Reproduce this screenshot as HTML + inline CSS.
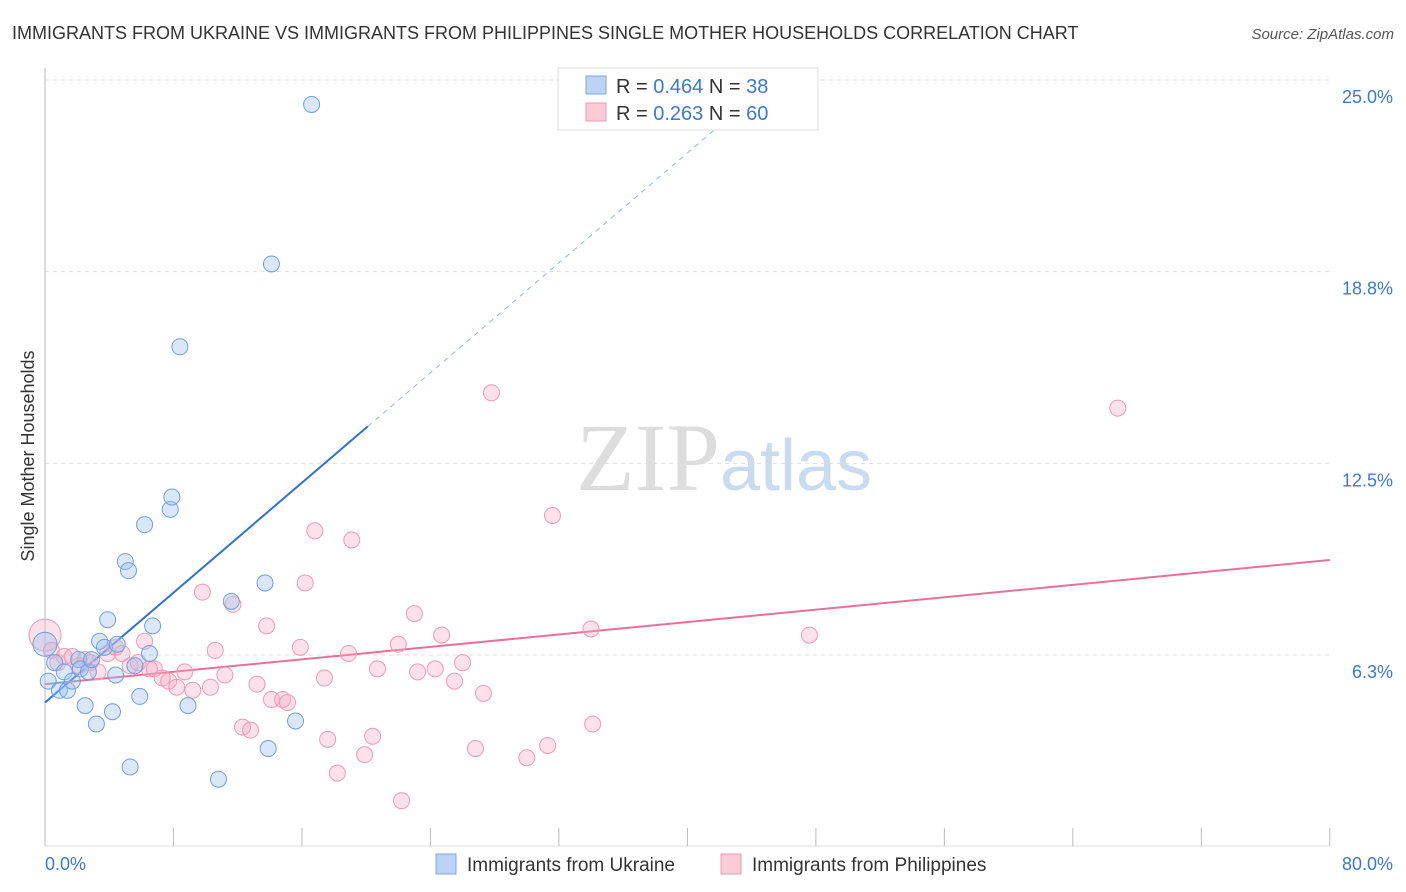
<!DOCTYPE html>
<html><head><meta charset="utf-8"><style>
body{margin:0;background:#fff;font-family:"Liberation Sans",sans-serif;}
svg{display:block}
</style></head><body>
<svg id="chart" width="1406" height="892">
<text x="12" y="39" font-size="18" fill="#333">IMMIGRANTS FROM UKRAINE VS IMMIGRANTS FROM PHILIPPINES SINGLE MOTHER HOUSEHOLDS CORRELATION CHART</text>
<text x="1394" y="39" font-size="15" fill="#555" font-style="italic" text-anchor="end">Source: ZipAtlas.com</text>
<text x="720" y="490" font-size="96" fill="#ddd" text-anchor="end" font-family="Liberation Serif">ZIP</text>
<text x="720" y="490" font-size="72" fill="#c9dbef">atlas</text>
<text transform="translate(34,456) rotate(-90)" font-size="18" fill="#333" text-anchor="middle">Single Mother Households</text>
<g id="grid"></g><g id="axes"></g><g id="lines"></g><g id="pts"></g>
<g>
<rect x="558" y="68" width="260" height="62" fill="#fff" stroke="#ddd"/>
<rect x="586" y="76" width="20" height="18" fill="#bcd3f5" stroke="#7aa7e6"/>
<rect x="586" y="103" width="20" height="18" fill="#fbcbd8" stroke="#ee9ab3"/>
<text x="616" y="93" font-size="20" fill="#333">R = <tspan fill="#3b78d6">0.464</tspan>   N = <tspan fill="#3b78d6">38</tspan></text>
<text x="616" y="120" font-size="20" fill="#333">R =  <tspan fill="#3b78d6">0.263</tspan>   N = <tspan fill="#3b78d6">60</tspan></text>
</g>
<g>
<rect x="436" y="854" width="20" height="20" fill="#bcd3f5" stroke="#7aa7e6"/>
<text x="467" y="871" font-size="19" fill="#333">Immigrants from Ukraine</text>
<rect x="721" y="854" width="20" height="20" fill="#fbcbd8" stroke="#ee9ab3"/>
<text x="752" y="871" font-size="19" fill="#333">Immigrants from Philippines</text>
</g>
</svg>
<script>
const yTicks=[25,18.75,12.5,6.25];
const yTickLabels=["25.0%","18.8%","12.5%","6.3%"];
const xTicks=[0,8,16,24,32,40,48,56,64,72,80];
const ukraineX=[0.0,0.2,0.6,0.9,1.2,1.4,1.7,2.1,2.2,2.5,2.7,2.9,3.2,3.4,3.7,3.9,4.2,4.4,4.5,5.0,5.2,5.3,5.6,5.9,6.2,6.5,6.7,7.8,7.9,8.4,8.9,10.8,11.6,13.7,13.9,14.1,15.6,16.6];
const ukraineY=[6.6,5.4,6.0,5.1,5.7,5.1,5.4,6.1,5.8,4.6,5.7,6.1,4.0,6.7,6.5,7.4,4.4,5.6,6.6,9.3,9.0,2.6,5.9,4.9,10.5,6.3,7.2,11.0,11.4,16.3,4.6,2.2,8.0,8.6,3.2,19.0,4.1,24.2];
const philX=[0.0,0.4,0.8,1.2,1.7,2.1,2.5,2.8,3.3,3.9,4.4,4.8,5.3,5.8,6.2,6.5,6.8,7.3,7.7,8.2,8.7,9.2,9.8,10.3,10.6,11.2,11.7,12.3,12.8,13.2,13.8,14.1,14.8,15.1,15.9,16.2,16.8,17.4,17.6,18.2,18.9,19.1,19.9,20.4,20.7,22.0,22.2,23.0,23.2,24.3,24.7,25.5,26.0,26.8,27.3,27.8,30.0,31.3,31.6,34.0,34.1,47.6,66.8];
const philY=[6.9,6.4,6.0,6.2,6.2,5.9,6.1,6.0,5.7,6.3,6.5,6.3,5.9,6.0,6.7,5.8,5.8,5.5,5.4,5.2,5.7,5.1,8.3,5.2,6.4,5.6,7.9,3.9,3.8,5.3,7.2,4.8,4.8,4.7,6.5,8.6,10.3,5.5,3.5,2.4,6.3,10.0,3.0,3.6,5.8,6.6,1.5,7.6,5.7,5.8,6.9,5.4,6.0,3.2,5.0,14.8,2.9,3.3,10.8,7.1,4.0,6.9,14.3];
const ukraineTrend=[4.7,0.448];
const philTrend=[5.3,0.0506];
const NS="http://www.w3.org/2000/svg";
const X=v=>45+v*16.06, Y=v=>846.7-v*30.67;
function mk(p,t,a){const e=document.createElementNS(NS,t);for(const k in a)e.setAttribute(k,a[k]);document.getElementById(p).appendChild(e);return e;}
yTicks.forEach((t,i)=>{
 const l=mk('grid','line',{x1:45,x2:1330,y1:Y(t),y2:Y(t),stroke:'#ddd','stroke-dasharray':'4,4'});
 
 
 const tx=mk('grid','text',{x:1393,y:Y(t)+23,'font-size':18,fill:'#3b78d6','text-anchor':'end'});
 tx.textContent=yTickLabels[i];
 
 
});
const ya=mk('axes','line',{x1:45,x2:45,y1:68,y2:846,stroke:'#bbb'});


const xa=mk('axes','line',{x1:45,x2:1330,y1:846,y2:846,stroke:'#ddd'});


xTicks.forEach(t=>{const l=mk('axes','line',{x1:X(t),x2:X(t),y1:828,y2:846,stroke:'#bbb'});
 
 });
const xl0=mk('axes','text',{x:45,y:870,'font-size':18,fill:'#3b78d6'});xl0.textContent='0.0%';


const xl1=mk('axes','text',{x:1393,y:870,'font-size':18,fill:'#3b78d6','text-anchor':'end'});xl1.textContent='80.0%';


philX.forEach((x,i)=>{const c=mk('pts','circle',{cx:X(x),cy:Y(philY[i]),r:i==0?16:8,fill:'rgba(246,170,195,0.35)',stroke:'#ee9ab3','stroke-width':1});
 
 });
ukraineX.forEach((x,i)=>{const c=mk('pts','circle',{cx:X(x),cy:Y(ukraineY[i]),r:i==0?12:8,fill:'rgba(160,195,240,0.4)',stroke:'#6f9fe0','stroke-width':1});
 
 });
const uEnd=20.1, uDash=(25-ukraineTrend[0])/ukraineTrend[1];
const u1=mk('lines','line',{x1:X(0),y1:Y(ukraineTrend[0]),x2:X(uEnd),y2:Y(ukraineTrend[0]+ukraineTrend[1]*uEnd),stroke:'#2f6fd6','stroke-width':2});


const u2=mk('lines','line',{x1:X(uEnd),y1:Y(ukraineTrend[0]+ukraineTrend[1]*uEnd),x2:X(uDash),y2:Y(25),stroke:'#8fb3e8','stroke-width':1,'stroke-dasharray':'5,5'});


const p1=mk('lines','line',{x1:X(0),y1:Y(philTrend[0]),x2:X(80),y2:Y(philTrend[0]+philTrend[1]*80),stroke:'#e8709a','stroke-width':2});


</script>
</body></html>
